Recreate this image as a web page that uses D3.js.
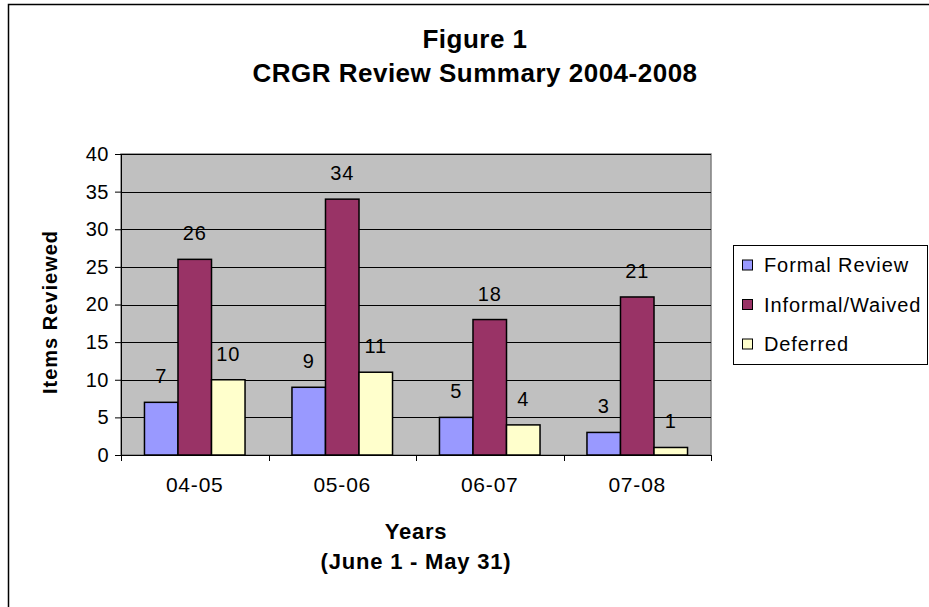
<!DOCTYPE html>
<html>
<head>
<meta charset="utf-8">
<script src="https://cdn.jsdelivr.net/npm/d3@7"></script>
<style>
  html, body { margin: 0; padding: 0; background: #fff; }
  svg { display: block; font-family: Arial, "Liberation Sans", sans-serif; }
</style>
</head>
<body>
<svg id="chart" width="929" height="607"></svg>
<script>
const categories = ["04-05", "05-06", "06-07", "07-08"];
const seriesNames = ["Formal Review", "Informal/Waived", "Deferred"];
const formalReview = [7, 9, 5, 3];
const informalWaived = [26, 34, 18, 21];
const deferred = [10, 11, 4, 1];
const seriesColors = ["#9999FF", "#993366", "#FFFFCC"];
const yTicks = [0, 5, 10, 15, 20, 25, 30, 35, 40];

const seriesValues = [formalReview, informalWaived, deferred];
const FONT = "Arial, 'Liberation Sans', sans-serif";

const svg = d3.select("#chart");

// outer frame (right/bottom edges fall outside the picture)
svg.append("rect")
  .attr("x", 8.5).attr("y", 4.5)
  .attr("width", 1000).attr("height", 1000)
  .attr("fill", "#fff").attr("stroke", "#000").attr("stroke-width", 1.5);

const plot = { left: 121, right: 711, top: 154, bottom: 455 };

const x = d3.scaleBand().domain(categories).range([plot.left, plot.right]).padding(0);
const y = d3.scaleLinear().domain([0, 40]).range([plot.bottom, plot.top]);

const bw = x.bandwidth();
const barW = bw / 4.4;
const offset = (bw - 3 * barW) / 2;
const xs = d3.scaleBand().domain(seriesNames).range([offset, offset + 3 * barW]).padding(0);

// plot area
svg.append("rect")
  .attr("x", plot.left).attr("y", plot.top)
  .attr("width", plot.right - plot.left).attr("height", plot.bottom - plot.top)
  .attr("fill", "#C0C0C0").attr("stroke", "#808080").attr("stroke-width", 1.5);

// gridlines
svg.append("g").selectAll("line").data(yTicks.filter(t => t > 0))
  .join("line")
  .attr("x1", plot.left).attr("x2", plot.right)
  .attr("y1", d => Math.round(y(d)) + 0.5).attr("y2", d => Math.round(y(d)) + 0.5)
  .attr("stroke", "#000").attr("stroke-width", 1);

// y axis
const yAxis = d3.axisLeft(y).tickValues(yTicks).tickSize(6).tickPadding(6);
const gy = svg.append("g").attr("transform", `translate(${plot.left},0)`).call(yAxis);
gy.select(".domain").attr("stroke", "#000");
gy.selectAll(".tick line").attr("stroke", "#000");
gy.selectAll(".tick text").attr("font-size", 20).attr("letter-spacing", 0.5)
  .attr("fill", "#000").attr("font-family", FONT);

// x axis
const xAxis = d3.axisBottom(x).tickSize(0).tickPadding(22);
const gx = svg.append("g").attr("transform", `translate(0,${plot.bottom})`).call(xAxis);
gx.select(".domain").attr("stroke", "#000");
gx.selectAll(".tick text").attr("font-size", 21).attr("letter-spacing", 0.8)
  .attr("fill", "#000").attr("font-family", FONT);
// tick marks at category boundaries
const bounds = categories.map(c => x(c)).concat([plot.right]);
svg.append("g").selectAll("line").data(bounds).join("line")
  .attr("x1", d => Math.round(d) + 0.5).attr("x2", d => Math.round(d) + 0.5)
  .attr("y1", plot.bottom).attr("y2", plot.bottom + 6)
  .attr("stroke", "#000");

// bars
const groups = svg.append("g").selectAll("g").data(categories).join("g")
  .attr("transform", c => `translate(${x(c)},0)`);

seriesNames.forEach((s, si) => {
  groups.append("rect")
    .attr("x", (c) => xs(s))
    .attr("y", (c, i) => y(seriesValues[si][i]))
    .attr("width", xs.bandwidth())
    .attr("height", (c, i) => y(0) - y(seriesValues[si][i]))
    .attr("fill", seriesColors[si])
    .attr("stroke", "#000").attr("stroke-width", 1.5);
  groups.append("text")
    .attr("x", c => xs(s) + xs.bandwidth() / 2)
    .attr("y", (c, i) => y(seriesValues[si][i]) - 19)
    .attr("text-anchor", "middle")
    .attr("font-size", 20).attr("letter-spacing", 0.8).attr("fill", "#000")
    .text((c, i) => seriesValues[si][i]);
});

// title
const title = svg.append("text").attr("text-anchor", "middle")
  .attr("font-weight", "bold").attr("font-size", 26).attr("letter-spacing", 0.5).attr("fill", "#000");
title.append("tspan").attr("x", 475).attr("y", 48).text("Figure 1");
title.append("tspan").attr("x", 475).attr("y", 82).text("CRGR Review Summary 2004-2008");

// axis titles
svg.append("text")
  .attr("transform", `translate(57,312) rotate(-90)`)
  .attr("text-anchor", "middle").attr("font-weight", "bold")
  .attr("font-size", 20).attr("letter-spacing", 1).attr("fill", "#000")
  .text("Items Reviewed");

svg.append("text").attr("x", 416).attr("y", 539)
  .attr("text-anchor", "middle").attr("font-weight", "bold")
  .attr("font-size", 22).attr("letter-spacing", 0.8).attr("fill", "#000").text("Years");
svg.append("text").attr("x", 416).attr("y", 569)
  .attr("text-anchor", "middle").attr("font-weight", "bold")
  .attr("font-size", 22).attr("letter-spacing", 0.8).attr("fill", "#000").text("(June 1 - May 31)");

// legend
const lg = svg.append("g");
lg.append("rect").attr("x", 733.5).attr("y", 245.5).attr("width", 194).attr("height", 119)
  .attr("fill", "#fff").attr("stroke", "#000").attr("stroke-width", 1);
const items = lg.selectAll("g.item").data(seriesNames).join("g").attr("class", "item")
  .attr("transform", (d, i) => `translate(0,${265 + i * 39.5})`);
items.append("rect").attr("x", 742.5).attr("y", -5).attr("width", 10).attr("height", 10)
  .attr("fill", (d, i) => seriesColors[i]).attr("stroke", "#000").attr("stroke-width", 1);
items.append("text").attr("x", 764).attr("y", 7).attr("font-size", 20)
  .attr("letter-spacing", 0.9).attr("fill", "#000").text(d => d);
</script>
</body>
</html>
